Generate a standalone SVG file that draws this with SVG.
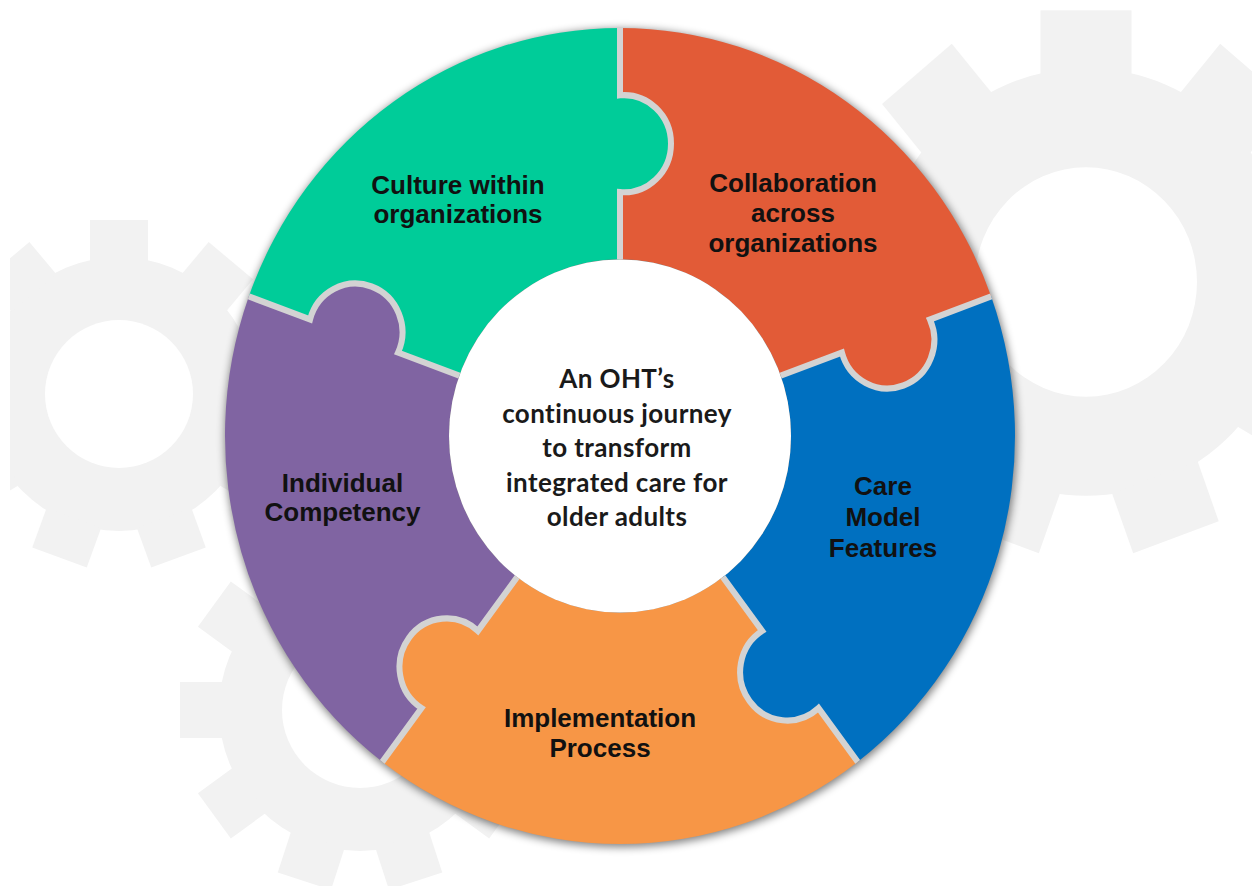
<svg xmlns="http://www.w3.org/2000/svg" xmlns:xlink="http://www.w3.org/1999/xlink" width="1252" height="886" viewBox="0 0 1252 886">
  <style>
    .gear { fill: #f2f2f2; }
    .hole { fill: #ffffff; }
    .seam { fill: none; stroke: #d3d3d3; stroke-width: 6; }
    .lbl { font-family: "Liberation Sans", Arial, sans-serif; font-weight: bold; font-size: 26px; fill: #111111; text-anchor: middle; }
    .ctr { font-family: Lato, "Open Sans", sans-serif; font-weight: bold; font-size: 26px; letter-spacing: 0.4px; fill: #1a1a1a; text-anchor: middle; }
  </style>
  <defs>
    <filter id="blur" x="-10%" y="-10%" width="120%" height="120%">
      <feGaussianBlur stdDeviation="4"/>
    </filter>
    <clipPath id="page">
      <rect x="10" y="9" width="1242" height="877"/>
    </clipPath>
    <rect id="toothBig" x="-45.5" y="-263" width="91" height="62"/>
    <rect id="toothLeft" x="-29" y="-174" width="58" height="42"/>
    <rect id="toothLow" x="-28" y="-180" width="56" height="44"/>
  </defs>

  <rect width="1252" height="886" fill="#ffffff"/>

  <!-- background gears -->
  <g id="background-gears" clip-path="url(#page)">
    <g class="gear" transform="translate(1086 282) scale(1 1.033)">
      <circle r="207"/>
      <use xlink:href="#toothBig"/>
      <use xlink:href="#toothBig" transform="rotate(40)"/>
      <use xlink:href="#toothBig" transform="rotate(80)"/>
      <use xlink:href="#toothBig" transform="rotate(120)"/>
      <use xlink:href="#toothBig" transform="rotate(160)"/>
      <use xlink:href="#toothBig" transform="rotate(200)"/>
      <use xlink:href="#toothBig" transform="rotate(240)"/>
      <use xlink:href="#toothBig" transform="rotate(280)"/>
      <use xlink:href="#toothBig" transform="rotate(320)"/>
      <circle class="hole" r="111"/>
    </g>
    <g class="gear" transform="translate(119 394)">
      <circle r="137"/>
      <use xlink:href="#toothLeft"/>
      <use xlink:href="#toothLeft" transform="rotate(40)"/>
      <use xlink:href="#toothLeft" transform="rotate(80)"/>
      <use xlink:href="#toothLeft" transform="rotate(120)"/>
      <use xlink:href="#toothLeft" transform="rotate(160)"/>
      <use xlink:href="#toothLeft" transform="rotate(200)"/>
      <use xlink:href="#toothLeft" transform="rotate(240)"/>
      <use xlink:href="#toothLeft" transform="rotate(280)"/>
      <use xlink:href="#toothLeft" transform="rotate(320)"/>
      <circle class="hole" r="74"/>
    </g>
    <g class="gear" transform="translate(360 710)">
      <circle r="141"/>
      <use xlink:href="#toothLow" transform="rotate(18)"/>
      <use xlink:href="#toothLow" transform="rotate(54)"/>
      <use xlink:href="#toothLow" transform="rotate(90)"/>
      <use xlink:href="#toothLow" transform="rotate(126)"/>
      <use xlink:href="#toothLow" transform="rotate(162)"/>
      <use xlink:href="#toothLow" transform="rotate(198)"/>
      <use xlink:href="#toothLow" transform="rotate(234)"/>
      <use xlink:href="#toothLow" transform="rotate(270)"/>
      <use xlink:href="#toothLow" transform="rotate(306)"/>
      <use xlink:href="#toothLow" transform="rotate(342)"/>
      <circle class="hole" r="78"/>
    </g>
  </g>

  <!-- soft shadow under the puzzle ring -->
  <g transform="translate(621 438) scale(1 1.033)">
    <circle r="396" fill="#000000" opacity="0.5" filter="url(#blur)"/>
  </g>

  <!-- puzzle pieces, clockwise from the top -->
  <g id="collaboration">
    <path transform="translate(620 436) scale(1 1.033)" fill="#e25b37" d="M 0,-171 L 0,-236.17 A 47 47 0 1 0 0,-329.83 L 0,-395 A 395 395 0 0 1 371.18,-135.10 L 309.94,-112.81 A 47 47 0 1 1 221.93,-80.77 L 160.69,-58.49 A 171 171 0 0 0 0,-171 Z"/>
    <text class="lbl" x="793" y="192">Collaboration</text>
    <text class="lbl" x="793" y="222">across</text>
    <text class="lbl" x="793" y="251.5">organizations</text>
  </g>
  <g id="care-model">
    <path transform="translate(620 436) scale(1 1.033)" fill="#0070c0" d="M 160.69,-58.49 L 221.93,-80.77 A 47 47 0 1 0 309.94,-112.81 L 371.18,-135.10 A 395 395 0 0 1 237.72,315.46 L 198.50,263.41 A 47 47 0 1 1 142.13,188.61 L 102.91,136.57 A 171 171 0 0 0 160.69,-58.49 Z"/>
    <text class="lbl" x="883" y="495">Care</text>
    <text class="lbl" x="883" y="526">Model</text>
    <text class="lbl" x="883" y="557">Features</text>
  </g>
  <g id="implementation">
    <path transform="translate(620 436) scale(1 1.033)" fill="#f79646" d="M 102.91,136.57 L 142.13,188.61 A 47 47 0 1 0 198.50,263.41 L 237.72,315.46 A 395 395 0 0 1 -237.72,315.46 L -198.50,263.41 A 47 47 0 1 1 -142.13,188.61 L -102.91,136.57 A 171 171 0 0 0 102.91,136.57 Z"/>
    <text class="lbl" x="600" y="727">Implementation</text>
    <text class="lbl" x="600" y="757">Process</text>
  </g>
  <g id="individual">
    <path transform="translate(620 436) scale(1 1.033)" fill="#8064a2" d="M -102.91,136.57 L -142.13,188.61 A 47 47 0 1 0 -198.50,263.41 L -237.72,315.46 A 395 395 0 0 1 -371.18,-135.10 L -309.94,-112.81 A 47 47 0 1 1 -221.93,-80.77 L -160.69,-58.49 A 171 171 0 0 0 -102.91,136.57 Z"/>
    <text class="lbl" x="342.5" y="492">Individual</text>
    <text class="lbl" x="342.5" y="521">Competency</text>
  </g>
  <g id="culture">
    <path transform="translate(620 436) scale(1 1.033)" fill="#00cc99" d="M -160.69,-58.49 L -221.93,-80.77 A 47 47 0 1 0 -309.94,-112.81 L -371.18,-135.10 A 395 395 0 0 1 0,-395 L 0,-329.83 A 47 47 0 1 1 0,-236.17 L 0,-171 A 171 171 0 0 0 -160.69,-58.49 Z"/>
    <text class="lbl" x="458" y="194">Culture within</text>
    <text class="lbl" x="458" y="222.5">organizations</text>
  </g>

  <!-- joints between neighbouring pieces -->
  <g id="seams" class="seam" transform="translate(620 436) scale(1 1.033)">
    <path d="M 0,-171 L 0,-236.17 A 47 47 0 1 0 0,-329.83 L 0,-395"/>
    <path d="M 160.69,-58.49 L 221.93,-80.77 A 47 47 0 1 0 309.94,-112.81 L 371.18,-135.10"/>
    <path d="M 102.91,136.57 L 142.13,188.61 A 47 47 0 1 0 198.50,263.41 L 237.72,315.46"/>
    <path d="M -102.91,136.57 L -142.13,188.61 A 47 47 0 1 0 -198.50,263.41 L -237.72,315.46"/>
    <path d="M -160.69,-58.49 L -221.93,-80.77 A 47 47 0 1 0 -309.94,-112.81 L -371.18,-135.10"/>
  </g>

  <!-- centre hub -->
  <g id="hub">
    <ellipse cx="620" cy="436" rx="171" ry="176.6" fill="#ffffff"/>
    <text class="ctr" x="617" y="388">An OHT’s</text>
    <text class="ctr" x="617" y="422.5">continuous journey</text>
    <text class="ctr" x="617" y="457">to transform</text>
    <text class="ctr" x="617" y="491.5">integrated care for</text>
    <text class="ctr" x="617" y="526">older adults</text>
  </g>
</svg>
